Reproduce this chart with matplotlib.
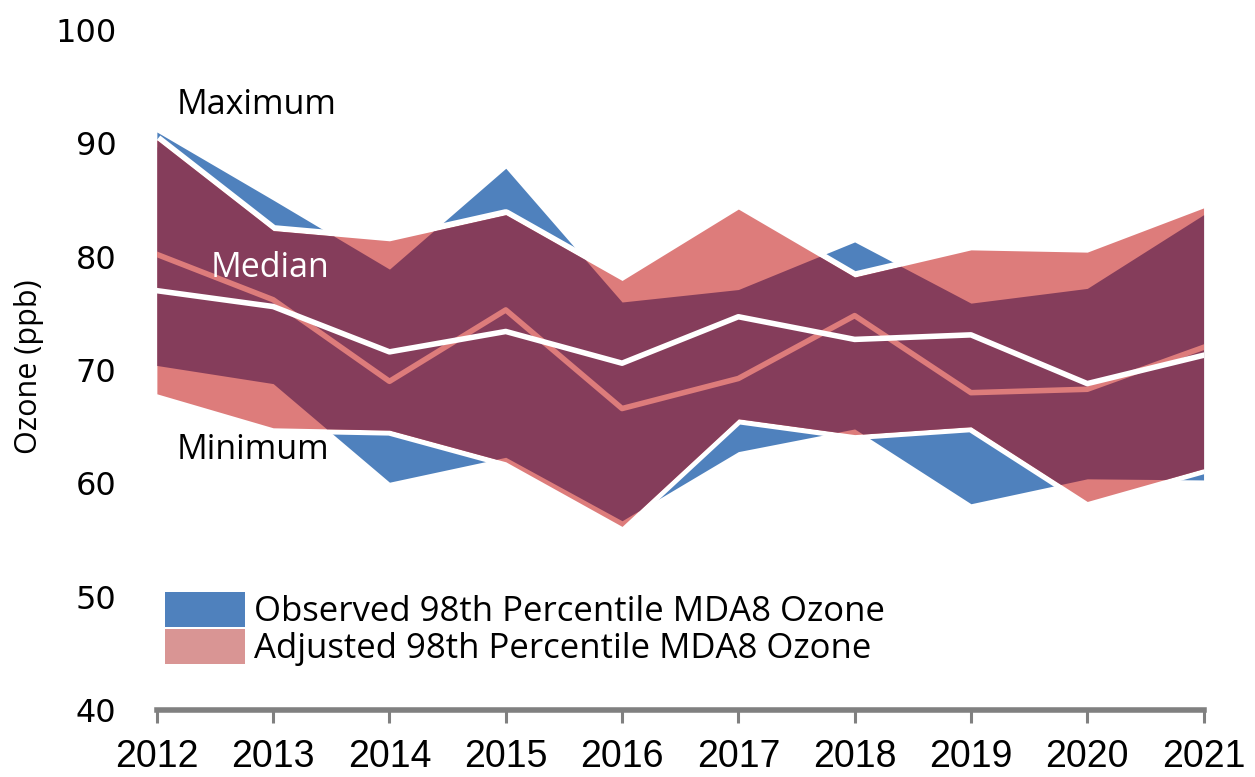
import numpy as np
import matplotlib
matplotlib.use("Agg")
import matplotlib.pyplot as plt
from matplotlib.patches import Patch

# values (ppb)
years = [2012, 2013, 2014, 2015, 2016, 2017, 2018, 2019, 2020, 2021]
obs_max = [91.0, 85.0, 78.9, 87.8, 76.0, 77.1, 81.3, 75.9, 77.2, 83.7]
obs_min = [70.4, 68.8, 60.1, 62.3, 56.7, 62.8, 64.8, 58.2, 60.4, 60.3]
adj_max = [90.3, 82.3, 81.4, 83.7, 77.9, 84.2, 78.2, 80.6, 80.4, 84.3]
adj_min = [67.9, 64.9, 64.7, 61.9, 56.2, 65.7, 64.3, 65.0, 58.4, 61.3]
median_white = [77.0, 75.6, 71.6, 73.4, 70.6, 74.7, 72.7, 73.1, 68.8, 71.3]
median_pink = [80.2, 76.2, 69.0, 75.3, 66.6, 69.25, 74.8, 68.0, 68.3, 72.0]
legend_labels = ["Observed 98th Percentile MDA8 Ozone",
                 "Adjusted 98th Percentile MDA8 Ozone"]

BLUE = "#4F81BD"
PINK = "#DD7C7B"
MAROON = "#853D5B"
GRAY = "#808080"
TXT = "Open Sans"

fig = plt.figure(figsize=(12.55, 7.77), dpi=100)
ax = fig.add_axes([0.125, 0.0862, 0.834, 0.8752])

# observed band
ax.fill_between(years, obs_min, obs_max, color=BLUE, lw=0, zorder=1)
# white max/min edges sit under the adjusted band
ax.plot(years, adj_max, color="white", lw=8, solid_capstyle="butt", zorder=2)
ax.plot(years, adj_min, color="white", lw=8, solid_capstyle="butt", zorder=2)
# adjusted band
ax.fill_between(years, adj_min, adj_max, color=PINK, lw=0, zorder=3)

# overlap of both bands
xd = np.linspace(years[0], years[-1], 3000)
top = np.minimum(np.interp(xd, years, obs_max), np.interp(xd, years, adj_max))
bot = np.maximum(np.interp(xd, years, obs_min), np.interp(xd, years, adj_min))
ax.fill_between(xd, bot, top, where=top > bot, color=MAROON, lw=0, zorder=4)

ax.plot(years, median_pink, color=PINK, lw=4, zorder=5)
ax.plot(years, median_white, color="white", lw=4, zorder=6)

ax.set_xlim(years[0], years[-1])
ax.set_ylim(40, 100)
ax.set_yticks(range(40, 101, 10))
ax.set_xticks(years)
ax.set_xticklabels([str(y) for y in years], fontsize=27, family="Liberation Sans")
ax.tick_params(axis="y", length=0, pad=29, labelsize=23)
ax.tick_params(axis="x", length=9, width=2.2, color=GRAY, pad=12)
for s in ["top", "right", "left"]:
    ax.spines[s].set_visible(False)
ax.spines["bottom"].set_color(GRAY)
ax.spines["bottom"].set_linewidth(4)
ax.set_ylabel("Ozone (ppb)", fontsize=22, family=TXT)
ax.yaxis.set_label_coords(-0.108, 0.505)

ax.text(2012.17, 93.4, "Maximum", fontsize=24.5, family=TXT, va="center", zorder=7)
ax.text(2012.46, 79.0, "Median", fontsize=24.5, family=TXT, color="white",
        va="center", zorder=7)
ax.text(2012.17, 62.9, "Minimum", fontsize=24.5, family=TXT, va="center", zorder=7)

handles = [Patch(facecolor=BLUE, edgecolor="none"),
           Patch(facecolor="#D99594", edgecolor="none")]
ax.legend(handles, legend_labels, loc="upper left", bbox_to_anchor=(0.0076, 0.173),
          frameon=False, borderpad=0, borderaxespad=0, labelspacing=0,
          handlelength=2.3, handleheight=1.15, handletextpad=0.28,
          prop={"family": TXT, "size": 25})

fig.savefig("out.png", dpi=100)
